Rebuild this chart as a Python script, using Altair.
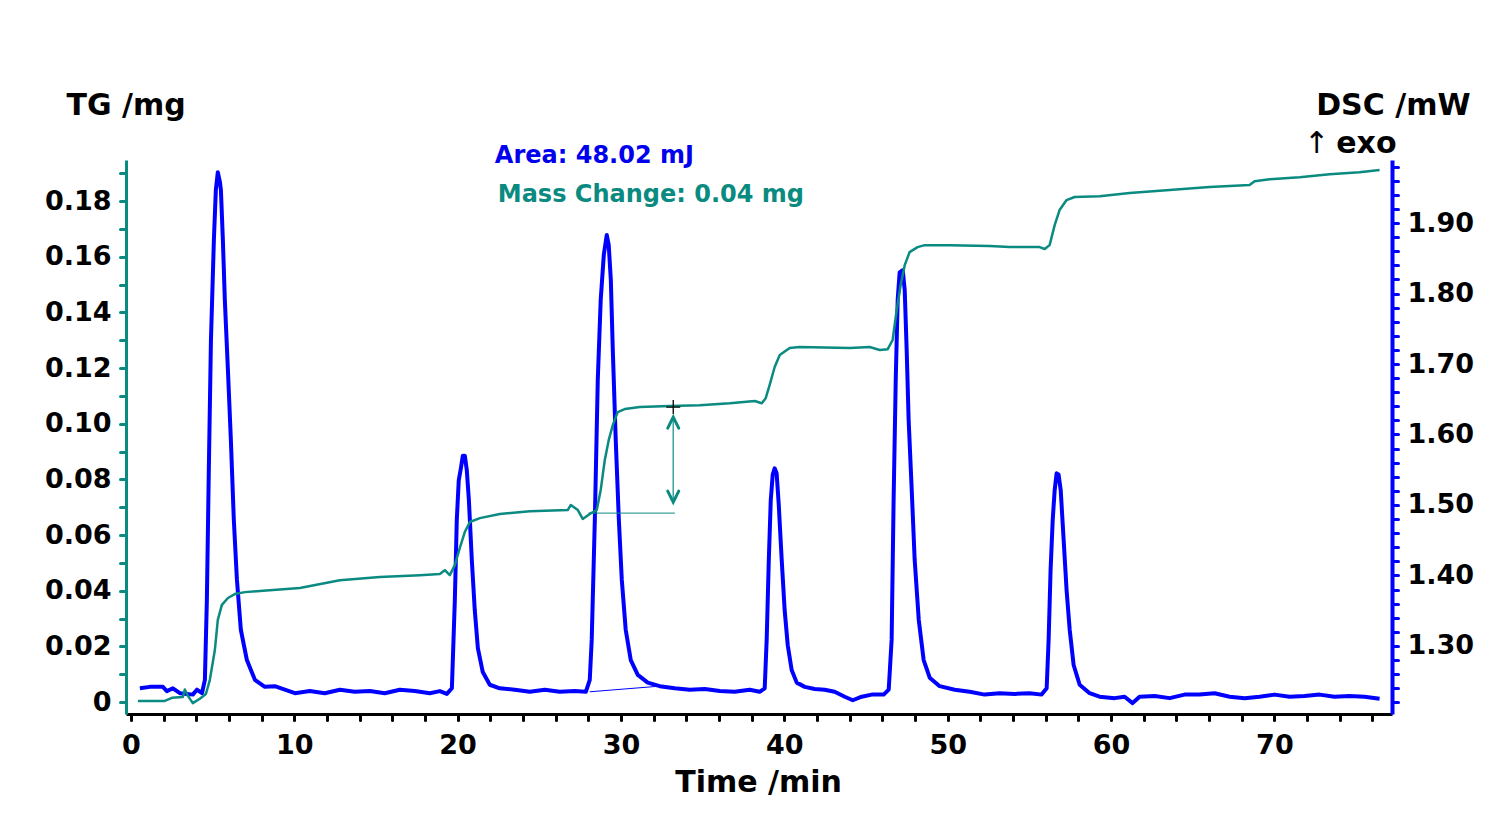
import altair as alt
import pandas as pd

# ---------------- data ----------------
time_dsc = [
    0.55, 1.16, 1.96, 2.20, 2.57, 3.00, 3.43, 3.79, 4.04, 4.35,
    4.53, 4.65, 4.77, 4.90, 5.08, 5.20, 5.32, 5.45, 5.51, 5.63,
    5.75, 5.94, 6.12, 6.30, 6.49, 6.73, 7.10, 7.59, 8.20, 8.81,
    9.42, 10.04, 10.95, 11.87, 12.79, 13.71, 14.63, 15.54, 16.46, 17.38,
    18.30, 18.91, 19.34, 19.65, 19.83, 19.95, 20.07, 20.20, 20.32, 20.44,
    20.56, 20.69, 20.87, 21.05, 21.24, 21.54, 21.97, 22.58, 23.50, 24.42,
    25.34, 26.25, 27.17, 27.85, 28.09, 28.21, 28.40, 28.58, 28.76, 28.95,
    29.13, 29.25, 29.38, 29.50, 29.68, 29.87, 30.05, 30.29, 30.60, 31.03,
    31.64, 32.37, 33.29, 34.21, 35.13, 36.05, 36.96, 37.88, 38.49, 38.80,
    38.92, 39.05, 39.17, 39.29, 39.41, 39.53, 39.66, 39.84, 40.02, 40.21,
    40.45, 40.76, 41.25, 41.86, 42.47, 43.08, 43.70, 44.19, 44.74, 45.35,
    46.08, 46.39, 46.57, 46.69, 46.82, 46.94, 47.06, 47.25, 47.37, 47.49,
    47.61, 47.80, 47.98, 48.23, 48.53, 48.90, 49.51, 50.43, 51.35, 52.26,
    53.18, 54.10, 55.02, 55.75, 56.06, 56.18, 56.30, 56.43, 56.55, 56.67,
    56.79, 56.92, 57.10, 57.28, 57.47, 57.71, 58.08, 58.69, 59.30, 60.22,
    60.83, 61.32, 61.75, 62.67, 63.59, 64.50, 65.42, 66.34, 67.26, 68.18,
    69.09, 70.01, 70.93, 71.85, 72.77, 73.68, 74.60, 75.52, 76.44,
]
dsc_mw = [
    1.240, 1.242, 1.242, 1.236, 1.240, 1.233, 1.232, 1.231, 1.238, 1.233,
    1.252, 1.365, 1.550, 1.734, 1.876, 1.947, 1.972, 1.958, 1.947, 1.876,
    1.791, 1.691, 1.592, 1.479, 1.394, 1.323, 1.280, 1.252, 1.242, 1.243,
    1.238, 1.233, 1.236, 1.233, 1.238, 1.235, 1.236, 1.233, 1.238, 1.236,
    1.233, 1.236, 1.232, 1.240, 1.365, 1.479, 1.535, 1.552, 1.570, 1.570,
    1.550, 1.507, 1.422, 1.351, 1.297, 1.263, 1.245, 1.240, 1.238, 1.235,
    1.238, 1.235, 1.236, 1.235, 1.252, 1.309, 1.479, 1.677, 1.791, 1.855,
    1.883, 1.869, 1.819, 1.720, 1.592, 1.479, 1.394, 1.323, 1.280, 1.259,
    1.248, 1.243, 1.240, 1.238, 1.239, 1.236, 1.235, 1.238, 1.235, 1.240,
    1.309, 1.422, 1.507, 1.543, 1.552, 1.545, 1.500, 1.422, 1.351, 1.301,
    1.266, 1.248, 1.242, 1.239, 1.238, 1.235, 1.228, 1.223, 1.228, 1.231,
    1.231, 1.238, 1.309, 1.507, 1.677, 1.791, 1.830, 1.833, 1.805, 1.720,
    1.621, 1.521, 1.422, 1.337, 1.280, 1.255, 1.243, 1.238, 1.235, 1.231,
    1.233, 1.232, 1.233, 1.231, 1.240, 1.309, 1.408, 1.479, 1.521, 1.545,
    1.543, 1.521, 1.450, 1.379, 1.323, 1.273, 1.245, 1.233, 1.228, 1.226,
    1.228, 1.219, 1.228, 1.229, 1.226, 1.231, 1.231, 1.233, 1.228, 1.226,
    1.228, 1.231, 1.228, 1.229, 1.231, 1.228, 1.229, 1.228, 1.225,
]

time_tg = [
    0.43, 2.08, 2.51, 3.18, 3.30, 3.49, 3.79, 4.22, 4.59, 4.83,
    5.14, 5.32, 5.57, 5.94, 6.36, 6.98, 7.89, 10.34, 12.79, 15.24,
    17.69, 18.91, 19.22, 19.52, 19.83, 20.13, 20.44, 20.75, 21.36, 22.58,
    24.42, 26.74, 26.93, 27.36, 27.66, 28.09, 28.52, 28.76, 29.01, 29.25,
    29.50, 29.80, 30.23, 31.15, 32.99, 34.82, 36.66, 38.19, 38.62, 38.86,
    39.10, 39.41, 39.72, 40.33, 40.94, 44.00, 45.23, 45.84, 46.33, 46.63,
    46.88, 47.12, 47.37, 47.67, 48.16, 48.59, 50.12, 52.57, 53.79, 55.63,
    55.94, 56.24, 56.55, 56.85, 57.28, 57.77, 59.30, 61.14, 63.59, 66.03,
    68.48, 68.79, 69.71, 71.54, 73.38, 75.21, 76.44,
]
tg_mg = [
    0.0004, 0.0004, 0.0015, 0.0018, 0.0045, 0.0022, -0.0004, 0.0012, 0.0029, 0.0079,
    0.0187, 0.0295, 0.0349, 0.0374, 0.0388, 0.0395, 0.0399, 0.0410, 0.0438, 0.0449,
    0.0456, 0.0460, 0.0474, 0.0456, 0.0492, 0.0553, 0.0611, 0.0647, 0.0661, 0.0676,
    0.0686, 0.0690, 0.0708, 0.0690, 0.0658, 0.0676, 0.0690, 0.0762, 0.0870, 0.0941,
    0.0995, 0.1042, 0.1053, 0.1060, 0.1064, 0.1067, 0.1074, 0.1082, 0.1074, 0.1092,
    0.1139, 0.1204, 0.1247, 0.1272, 0.1276, 0.1272, 0.1276, 0.1265, 0.1268, 0.1301,
    0.1409, 0.1498, 0.1570, 0.1617, 0.1635, 0.1642, 0.1642, 0.1639, 0.1635, 0.1635,
    0.1628, 0.1642, 0.1714, 0.1768, 0.1804, 0.1815, 0.1818, 0.1829, 0.1840, 0.1851,
    0.1858, 0.1872, 0.1879, 0.1886, 0.1897, 0.1904, 0.1912,
]
assert len(time_dsc) == len(dsc_mw)
assert len(time_tg) == len(tg_mg)

# axis tick values (majors labelled, minors unlabelled)
x_ticks = [0, 2, 4, 6, 8, 10, 12, 14, 16, 18, 20, 22, 24, 26, 28, 30, 32, 34, 36, 38,
           40, 42, 44, 46, 48, 50, 52, 54, 56, 58, 60, 62, 64, 66, 68, 70, 72, 74, 76]
tg_ticks = [0.0, 0.01, 0.02, 0.03, 0.04, 0.05, 0.06, 0.07, 0.08, 0.09,
            0.10, 0.11, 0.12, 0.13, 0.14, 0.15, 0.16, 0.17, 0.18, 0.19]
dsc_ticks = [1.22, 1.24, 1.26, 1.28, 1.30, 1.32, 1.34, 1.36, 1.38, 1.40,
             1.42, 1.44, 1.46, 1.48, 1.50, 1.52, 1.54, 1.56, 1.58, 1.60,
             1.62, 1.64, 1.66, 1.68, 1.70, 1.72, 1.74, 1.76, 1.78, 1.80,
             1.82, 1.84, 1.86, 1.88, 1.90, 1.92, 1.94, 1.96, 1.98]

# mass-change evaluation (TG units) and peak-integration baseline (DSC units)
mass_base_time = [28.0, 33.3]
mass_base_tg = [0.0679]
mass_arrow_time = [33.2]
mass_arrow_tg = [0.0718, 0.1024]
mass_chevron_tg = [0.1004, 0.0738]
mass_level_point = [33.2, 0.1060]
peak_base_time = [28.09, 32.37]
peak_base_dsc = [1.235, 1.243]

area_label = "Area: 48.02 mJ"
mass_label = "Mass Change: 0.04 mg"
area_pos = [22.28, 0.1937]
mass_pos = [22.46, 0.1797]
exo_pos = [77.48, 1.9993]
arrow_pos = [72.58, 1.9993]

# ---------------- styling ----------------
teal = "#0a8a80"
blue = "#0000ff"
font = "DejaVu Sans"

x_scale = alt.Scale(domain=[-0.3, 77.2], nice=False, zero=False)
tg_scale = alt.Scale(domain=[-0.0043, 0.1948], nice=False, zero=False)
dsc_scale = alt.Scale(domain=[1.2035, 1.9894], nice=False, zero=False)

common = dict(
    labelFont=font, labelFontSize=27, labelFontWeight="bold", labelColor="black",
    titleFont=font, titleFontSize=30, titleFontWeight="bold", titleColor="black",
    grid=False, labelOverlap=False, labelFlush=False,
    tickSize=6, tickWidth=3, tickCap="round",
)

x_axis = alt.Axis(
    orient="bottom", values=x_ticks,
    labelExpr="datum.value % 10 == 0 ? format(datum.value, 'd') : ''",
    title="Time /min", titleX=632, titleY=77, titleAlign="center",
    titleBaseline="alphabetic",
    domainColor="black", domainWidth=3, tickColor="black", labelPadding=12,
    **common,
)
tg_axis = alt.Axis(
    orient="left", values=tg_ticks,
    labelExpr="round(datum.value*100) % 2 == 0 ? (datum.value == 0 ? '0' : format(datum.value, '.2f')) : ''",
    title="TG /mg", titleAngle=0, titleX=-60, titleY=-46, titleAlign="left",
    titleBaseline="alphabetic",
    domainColor=teal, domainWidth=3, tickColor=teal, labelPadding=9,
    **common,
)
dsc_axis = alt.Axis(
    orient="right", values=dsc_ticks,
    labelExpr="round(datum.value*100) % 10 == 0 ? format(datum.value, '.2f') : ''",
    title="DSC /mW", titleAngle=0, titleX=78, titleY=-46, titleAlign="right",
    titleBaseline="alphabetic",
    domainColor=blue, domainWidth=4, tickColor=blue, labelPadding=9,
    **common,
)


def X(field):
    return alt.X(f"{field}:Q", scale=x_scale, axis=x_axis)


def Ytg(field):
    return alt.Y(f"{field}:Q", scale=tg_scale, axis=tg_axis)


def Ydsc(field):
    return alt.Y(f"{field}:Q", scale=dsc_scale, axis=dsc_axis)


df_dsc = pd.DataFrame({"time": time_dsc, "dsc": dsc_mw})
df_tg = pd.DataFrame({"time": time_tg, "tg": tg_mg})

# ---------------- DSC group ----------------
dsc_line = alt.Chart(df_dsc).mark_line(
    color=blue, strokeWidth=4, strokeJoin="round"
).encode(x=X("time"), y=Ydsc("dsc"))

dsc_base = alt.Chart(pd.DataFrame({
    "t0": [peak_base_time[0]], "t1": [peak_base_time[1]],
    "d0": [peak_base_dsc[0]], "d1": [peak_base_dsc[1]],
})).mark_rule(color=blue, strokeWidth=1).encode(
    x=X("t0"), x2="t1", y=Ydsc("d0"), y2="d1"
)

exo_text = alt.Chart(pd.DataFrame({
    "t": [exo_pos[0]], "d": [exo_pos[1]], "label": ["exo"]
})).mark_text(
    align="right", baseline="alphabetic", font=font, fontSize=30,
    fontWeight="bold", color="black"
).encode(x=X("t"), y=Ydsc("d"), text="label:N")

arrow_text = alt.Chart(pd.DataFrame({
    "t": [arrow_pos[0]], "d": [arrow_pos[1]], "label": ["↑"]
})).mark_text(
    align="center", baseline="alphabetic", font=font, fontSize=30,
    fontWeight="normal", color="black"
).encode(x=X("t"), y=Ydsc("d"), text="label:N")

dsc_group = alt.layer(dsc_line, dsc_base, exo_text, arrow_text)

# ---------------- TG group ----------------
tg_line = alt.Chart(df_tg).mark_line(
    color=teal, strokeWidth=2.5, strokeJoin="round"
).encode(x=X("time"), y=Ytg("tg"))

tg_base = alt.Chart(pd.DataFrame({
    "t0": [mass_base_time[0]], "t1": [mass_base_time[1]], "tg": mass_base_tg
})).mark_rule(color=teal, strokeWidth=1).encode(x=X("t0"), x2="t1", y=Ytg("tg"))

tg_shaft = alt.Chart(pd.DataFrame({
    "t": mass_arrow_time, "a0": [mass_arrow_tg[0]], "a1": [mass_arrow_tg[1]]
})).mark_rule(color="#3ea39b", strokeWidth=1.5).encode(x=X("t"), y=Ytg("a0"), y2="a1")

chev_up = alt.Chart(pd.DataFrame({
    "t": mass_arrow_time, "tg": [mass_chevron_tg[0]]
})).mark_point(
    shape="M -1 1 L 0 -1 L 1 1", size=121, filled=False, stroke=teal,
    strokeWidth=3, strokeCap="round", opacity=1
).encode(x=X("t"), y=Ytg("tg"))

chev_down = alt.Chart(pd.DataFrame({
    "t": mass_arrow_time, "tg": [mass_chevron_tg[1]]
})).mark_point(
    shape="M -1 -1 L 0 1 L 1 -1", size=121, filled=False, stroke=teal,
    strokeWidth=3, strokeCap="round", opacity=1
).encode(x=X("t"), y=Ytg("tg"))

cross = alt.Chart(pd.DataFrame({
    "t": [mass_level_point[0]], "tg": [mass_level_point[1]]
})).mark_point(
    shape="M -1 0 L 1 0 M 0 -1 L 0 1", size=196, filled=False,
    stroke="black", strokeWidth=1.3, opacity=1
).encode(x=X("t"), y=Ytg("tg"))

area_text = alt.Chart(pd.DataFrame({
    "t": [area_pos[0]], "tg": [area_pos[1]], "label": [area_label]
})).mark_text(
    align="left", baseline="alphabetic", font=font, fontSize=24,
    fontWeight="bold", color="#0000ee"
).encode(x=X("t"), y=Ytg("tg"), text="label:N")

mass_text = alt.Chart(pd.DataFrame({
    "t": [mass_pos[0]], "tg": [mass_pos[1]], "label": [mass_label]
})).mark_text(
    align="left", baseline="alphabetic", font=font, fontSize=24,
    fontWeight="bold", color=teal
).encode(x=X("t"), y=Ytg("tg"), text="label:N")

tg_group = alt.layer(tg_line, tg_base, tg_shaft, chev_up, chev_down, cross,
                     area_text, mass_text)

chart = alt.layer(dsc_group, tg_group).resolve_scale(y="independent").properties(
    width=1266, height=554,
    padding={"left": 118, "top": 152, "right": 104, "bottom": 112},
    autosize=alt.AutoSizeParams(type="none"),
    background="white",
).configure_view(stroke=None)

chart.save("out.html", embed_options={"renderer": "svg", "actions": False})
